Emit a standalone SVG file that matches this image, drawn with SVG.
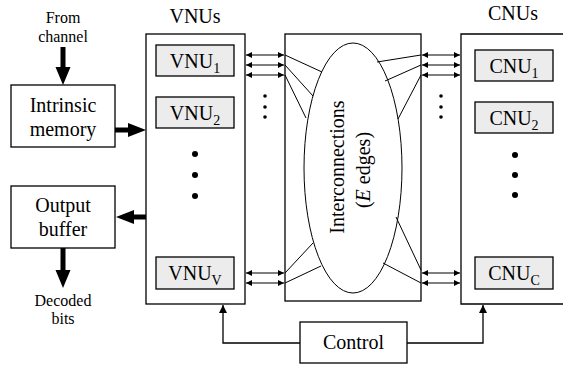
<svg xmlns="http://www.w3.org/2000/svg" width="563" height="369" viewBox="0 0 563 369" font-family="'Liberation Serif', 'Times New Roman', serif">
<defs>
<style>
text{font-family:'Liberation Serif','Times New Roman',serif;fill:#000}
.t20{font-size:20px}
.t16{font-size:16px}
.sub{font-size:14px}
.box{fill:#fff;stroke:#000;stroke-width:1.3}
.unit{fill:#ececec;stroke:#000;stroke-width:1.3}
.thin{fill:none;stroke:#000;stroke-width:1}
.bi{fill:none;stroke:#000;stroke-width:1.2;marker-start:url(#ah);marker-end:url(#ah)}
.ctl{fill:none;stroke:#000;stroke-width:1.3;marker-end:url(#ah2)}
.thick{fill:#000;stroke:none}
.dot{fill:#000}
</style>
<marker id="ah" viewBox="0 0 10 10" refX="10" refY="5" markerWidth="7" markerHeight="6" markerUnits="userSpaceOnUse" orient="auto-start-reverse">
<path d="M0,0 L10,5 L0,10 z" fill="#000"/>
</marker>
<marker id="ah2" viewBox="0 0 10 10" refX="10" refY="5" markerWidth="10" markerHeight="8" markerUnits="userSpaceOnUse" orient="auto">
<path d="M0,0 L10,5 L0,10 z" fill="#000"/>
</marker>
</defs>

<text class="t16" x="63" y="23" text-anchor="middle">From</text>
<text class="t16" x="63" y="42" text-anchor="middle">channel</text>
<text class="t20" x="195" y="23" text-anchor="middle">VNUs</text>
<text class="t20" x="513" y="20" text-anchor="middle">CNUs</text>
<text class="t16" x="63" y="306" text-anchor="middle">Decoded</text>
<text class="t16" x="63" y="324" text-anchor="middle">bits</text>

<g id="intrinsic">
<rect class="box" x="11" y="85" width="104" height="62"/>
<text class="t20" x="63" y="112" text-anchor="middle">Intrinsic</text>
<text class="t20" x="63" y="136" text-anchor="middle">memory</text>
</g>

<g id="output">
<rect class="box" x="11" y="186" width="104" height="62"/>
<text class="t20" x="63" y="212" text-anchor="middle">Output</text>
<text class="t20" x="63" y="236" text-anchor="middle">buffer</text>
</g>

<g id="vnus">
<rect class="box" x="146" y="34" width="99" height="270"/>
<circle class="dot" cx="195" cy="154" r="3"/>
<circle class="dot" cx="195" cy="175" r="3"/>
<circle class="dot" cx="195" cy="196" r="3"/>
</g>
<g id="vnu1">
<rect class="unit" x="156" y="45" width="78" height="31"/>
<text class="t20" x="195" y="68" text-anchor="middle">VNU<tspan class="sub" dy="5">1</tspan></text>
</g>
<g id="vnu2">
<rect class="unit" x="156" y="97" width="78" height="31"/>
<text class="t20" x="195" y="120" text-anchor="middle">VNU<tspan class="sub" dy="5">2</tspan></text>
</g>
<g id="vnuv">
<rect class="unit" x="156" y="257" width="78" height="32"/>
<text class="t20" x="195" y="280" text-anchor="middle">VNU<tspan class="sub" dy="5">V</tspan></text>
</g>

<g id="interconnections">
<rect class="box" x="285" y="34" width="136" height="267"/>
<ellipse class="thin" cx="353" cy="168" rx="49" ry="125"/>
<text class="t20" transform="translate(344,167) rotate(-90)" text-anchor="middle">Interconnections</text>
<text class="t20" transform="translate(370,170) rotate(-90)" text-anchor="middle">(<tspan font-style="italic">E</tspan> edges)</text>
</g>

<g id="cnus">
<path class="box" d="M564,34 H461 V304 H564"/>
<circle class="dot" cx="515" cy="155" r="3"/>
<circle class="dot" cx="515" cy="175" r="3"/>
<circle class="dot" cx="515" cy="195" r="3"/>
</g>
<g id="cnu1">
<rect class="unit" x="475" y="50" width="78" height="31"/>
<text class="t20" x="514" y="73" text-anchor="middle">CNU<tspan class="sub" dy="5">1</tspan></text>
</g>
<g id="cnu2">
<rect class="unit" x="475" y="102" width="78" height="31"/>
<text class="t20" x="514" y="125" text-anchor="middle">CNU<tspan class="sub" dy="5">2</tspan></text>
</g>
<g id="cnuc">
<rect class="unit" x="475" y="257" width="78" height="32"/>
<text class="t20" x="514" y="280" text-anchor="middle">CNU<tspan class="sub" dy="5">C</tspan></text>
</g>

<g id="control">
<rect class="box" x="300" y="322" width="107" height="41"/>
<text class="t20" x="353.5" y="349" text-anchor="middle">Control</text>
</g>

<g id="connectors">
<polygon class="thick" points="60.5,47 65.5,47 65.5,67 70.5,67 63,85 55.5,67 60.5,67"/>
<polygon class="thick" points="115,127.5 128,127.5 128,123 146,130 128,137 128,132.5 115,132.5"/>
<polygon class="thick" points="146,214.5 134,214.5 134,210 116,217 134,224 134,219.5 146,219.5"/>
<polygon class="thick" points="60.5,248 65.5,248 65.5,270 70.5,270 63,288 55.5,270 60.5,270"/>

<line class="bi" x1="246" y1="55" x2="284" y2="55"/>
<line class="bi" x1="246" y1="65" x2="284" y2="65"/>
<line class="bi" x1="246" y1="75" x2="284" y2="75"/>
<line class="bi" x1="246" y1="273" x2="284" y2="273"/>
<line class="bi" x1="246" y1="283" x2="284" y2="283"/>
<line class="bi" x1="422" y1="55" x2="460" y2="55"/>
<line class="bi" x1="422" y1="65" x2="460" y2="65"/>
<line class="bi" x1="422" y1="75" x2="460" y2="75"/>
<line class="bi" x1="422" y1="273" x2="460" y2="273"/>
<line class="bi" x1="422" y1="283" x2="460" y2="283"/>

<circle class="dot" cx="265" cy="96" r="1.8"/>
<circle class="dot" cx="265" cy="107" r="1.8"/>
<circle class="dot" cx="265" cy="117" r="1.8"/>
<circle class="dot" cx="441" cy="96" r="1.8"/>
<circle class="dot" cx="441" cy="107" r="1.8"/>
<circle class="dot" cx="441" cy="117" r="1.8"/>

<line class="thin" x1="285" y1="55" x2="322" y2="72"/>
<line class="thin" x1="285" y1="65" x2="313" y2="96"/>
<line class="thin" x1="285" y1="75" x2="306" y2="118"/>
<line class="thin" x1="285" y1="273" x2="313" y2="243"/>
<line class="thin" x1="285" y1="283" x2="321" y2="266"/>
<line class="thin" x1="421" y1="55" x2="377" y2="62"/>
<line class="thin" x1="421" y1="65" x2="385" y2="81"/>
<line class="thin" x1="421" y1="75" x2="398" y2="119"/>
<line class="thin" x1="421" y1="270" x2="396" y2="217"/>
<line class="thin" x1="421" y1="283" x2="383" y2="263"/>

<path class="ctl" d="M300,343 H223 V305"/>
<path class="ctl" d="M407,343 H483 V305"/>
</g>
</svg>
